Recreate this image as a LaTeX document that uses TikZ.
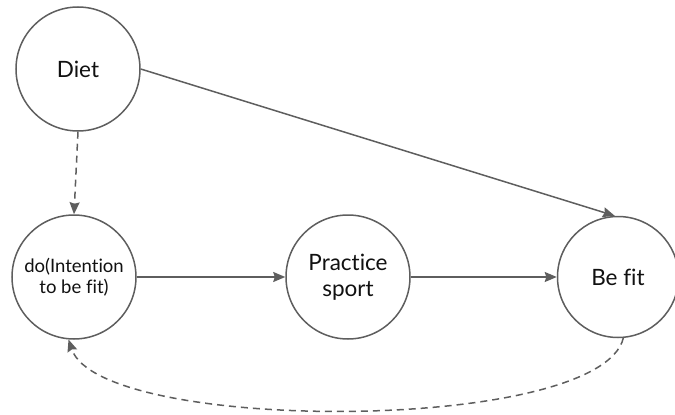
\documentclass[tikz,border=0pt]{standalone}
\usepackage{fontspec}
\setmainfont{Lato}[Ligatures=NoCommon]
\usetikzlibrary{arrows.meta}
\definecolor{edgegray}{HTML}{5E5E5E}
\definecolor{textdark}{HTML}{111111}
\begin{document}
\begin{tikzpicture}[x=1pt,y=-1pt,
  var/.style={circle,draw=edgegray,line width=1.5pt,fill=white,text=textdark,
    inner sep=0pt,align=center,font=\fontsize{22.5}{26}\selectfont},
  link/.style={draw=edgegray,line width=1.5pt,-{Stealth[length=12pt,width=10pt,inset=1.5pt]}},
  dashlink/.style={link,dash pattern=on 7pt off 5pt}]
\useasboundingbox (0,0) rectangle (675,415);
\node[var,minimum size=124pt] (diet) at (78,69) {Diet};
\node[var,minimum size=124pt,font=\fontsize{18.5}{21.5}\selectfont] (intent) at (74,277) {do(Intention\\to be fit)};
\node[var,minimum size=124pt] (sport) at (348,277) {Practice\\sport};
\node[var,minimum size=121pt] (fit) at (618,277) {Be fit};
\draw[link] (diet.east) -- (fit.93);
\draw[dashlink] (diet.south) -- (intent.north);
\draw[link] (intent.east) -- (sport.west);
\draw[link] (sport.east) -- (fit.west);
\draw[dashlink] (fit.-85) .. controls (600,434) and (100,434) .. (intent.-95);
\end{tikzpicture}
\end{document}
